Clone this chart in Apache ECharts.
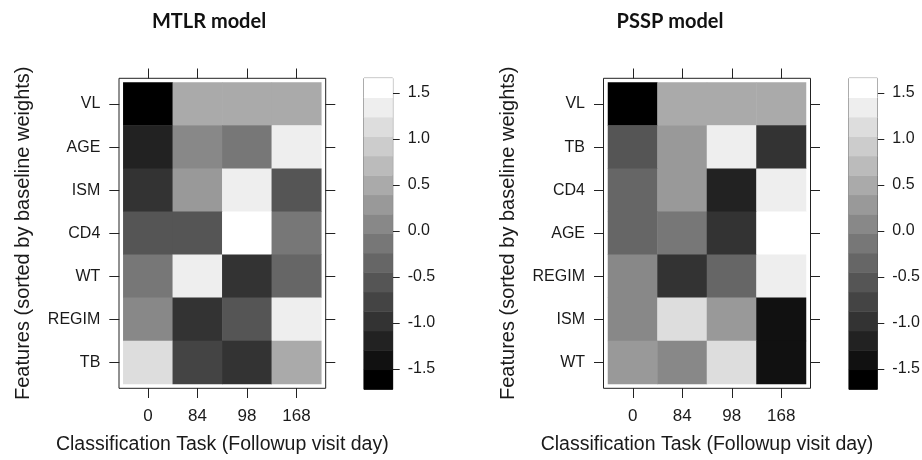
<!DOCTYPE html>
<html><head><meta charset="utf-8">
<script src="https://cdn.jsdelivr.net/npm/echarts@6/dist/echarts.min.js"></script>
<style>html,body{margin:0;padding:0;background:#fff}#c{width:922px;height:460px}</style>
</head><body><div id="c"></div>
<script>
// ---------- data ----------
const tasks = ['0', '84', '98', '168'];

const mtlrFeatures = ['VL', 'AGE', 'ISM', 'CD4', 'WT', 'REGIM', 'TB'];
const mtlrVL    = [-1.65,  0.50,  0.50,  0.50];
const mtlrAGE   = [-1.20,  0.08, -0.13,  1.35];
const mtlrISM   = [-0.98,  0.29,  1.34, -0.56];
const mtlrCD4   = [-0.55, -0.56,  1.60, -0.14];
const mtlrWT    = [-0.13,  1.34, -0.98, -0.35];
const mtlrREGIM = [ 0.07, -0.98, -0.56,  1.35];
const mtlrTB    = [ 1.13, -0.77, -0.98,  0.50];
const mtlrRows = [mtlrVL, mtlrAGE, mtlrISM, mtlrCD4, mtlrWT, mtlrREGIM, mtlrTB];

const psspFeatures = ['VL', 'TB', 'CD4', 'AGE', 'REGIM', 'ISM', 'WT'];
const psspVL    = [-1.70,  0.50,  0.50,  0.50];
const psspTB    = [-0.56,  0.29,  1.34, -0.98];
const psspCD4   = [-0.35,  0.29, -1.19,  1.35];
const psspAGE   = [-0.35, -0.13, -0.98,  1.62];
const psspREGIM = [ 0.08, -0.98, -0.35,  1.35];
const psspISM   = [ 0.08,  1.13,  0.29, -1.40];
const psspWT    = [ 0.29,  0.08,  1.13, -1.40];
const psspRows = [psspVL, psspTB, psspCD4, psspAGE, psspREGIM, psspISM, psspWT];

const colorbarTicks = [-1.5, -1.0, -0.5, 0.0, 0.5, 1.0, 1.5];
const scaleMin = -1.72;
const scaleMax = 1.66;
const nLevels = 16;

// ---------- derived ----------
const step = (scaleMax - scaleMin) / nLevels;
const bounds = [];
for (let k = 0; k <= nLevels; k++) bounds.push(scaleMin + k * step);
const levelIdx = [];
const levelMid = [];
for (let k = 0; k < nLevels; k++) { levelIdx.push(String(k)); levelMid.push(scaleMin + (k + 0.5) * step); }
function grey(k) { const g = Math.round(255 * k / (nLevels - 1)); return 'rgb(' + g + ',' + g + ',' + g + ')'; }
const pieces = [];
for (let k = 0; k < nLevels; k++) {
  const p = { gte: bounds[k], color: grey(k) };
  if (k === nLevels - 1) p.lte = bounds[k + 1] + 1; else p.lt = bounds[k + 1];
  if (k === 0) p.gte = bounds[0] - 1;
  pieces.push(p);
}
function cells(rows) {
  const out = [];
  rows.forEach((row, r) => row.forEach((v, c) => out.push([c, r, v])));
  return out;
}
const cbData = levelMid.map((v, k) => [0, k, v]);

const FONT = '"Liberation Sans", Arial, sans-serif';
const INK = '#1a1a1a';
const LINE = '#222';

const panels = [
  { title: 'MTLR model', titleX: 209, inner: { left: 123.3, top: 82.5, width: 198, height: 301.5 },
    frame: { left: 119, top: 78.3, width: 206.7, height: 310 },
    cb: { left: 364, top: 78.3, width: 28.7, height: 311 }, feats: mtlrFeatures, rows: mtlrRows },
  { title: 'PSSP model', titleX: 670, inner: { left: 608, top: 82.5, width: 198, height: 301.5 },
    frame: { left: 603.5, top: 78.3, width: 207, height: 310 },
    cb: { left: 849, top: 78.3, width: 28.3, height: 311 }, feats: psspFeatures, rows: psspRows }
];

const grid = [], xAxis = [], yAxis = [], series = [], graphic = [];
const tickStyle = { color: LINE, width: 1 };

panels.forEach((p, i) => {
  const gi = grid.length;
  grid.push(Object.assign({ show: false, containLabel: false, outerBoundsMode: 'none' }, p.inner));
  grid.push(Object.assign({ show: true, borderColor: LINE, borderWidth: 1, backgroundColor: 'transparent', containLabel: false, outerBoundsMode: 'none' }, p.frame));
  grid.push(Object.assign({ show: true, borderColor: LINE, borderWidth: 1, backgroundColor: 'transparent', containLabel: false, outerBoundsMode: 'none' }, p.cb));

  const xi = xAxis.length, yi = yAxis.length;
  // inner grid axes
  xAxis.push({ type: 'category', gridIndex: gi, position: 'bottom', offset: 4, data: tasks,
    axisLine: { show: false }, splitLine: { show: false },
    axisTick: { show: true, alignWithLabel: true, interval: 0, length: 10, lineStyle: tickStyle },
    axisLabel: { show: true, interval: 0, margin: 20, fontSize: 17, color: INK, fontFamily: FONT },
    name: 'Classification Task (Followup visit day)', nameLocation: 'middle', nameGap: 47,
    nameTextStyle: { fontSize: 19.5, color: INK, fontFamily: FONT } });
  xAxis.push({ type: 'category', gridIndex: gi, position: 'top', offset: 4, data: tasks,
    axisLine: { show: false }, splitLine: { show: false },
    axisTick: { show: true, alignWithLabel: true, interval: 0, length: 10, lineStyle: tickStyle },
    axisLabel: { show: false } });
  yAxis.push({ type: 'category', gridIndex: gi, position: 'left', offset: 4, inverse: true, data: p.feats,
    axisLine: { show: false }, splitLine: { show: false },
    axisTick: { show: true, alignWithLabel: true, interval: 0, length: 10, lineStyle: tickStyle },
    axisLabel: { show: true, interval: 0, margin: 19, fontSize: 16, color: INK, fontFamily: FONT },
    name: 'Features (sorted by baseline weights)', nameLocation: 'middle', nameGap: 86, nameRotate: 90,
    nameTextStyle: { fontSize: 20, color: INK, fontFamily: FONT } });
  yAxis.push({ type: 'category', gridIndex: gi, position: 'right', offset: 4, inverse: true, data: p.feats,
    axisLine: { show: false }, splitLine: { show: false },
    axisTick: { show: true, alignWithLabel: true, interval: 0, length: 10, lineStyle: tickStyle },
    axisLabel: { show: false } });
  // frame grid axes (hidden)
  xAxis.push({ type: 'value', gridIndex: gi + 1, show: false });
  yAxis.push({ type: 'value', gridIndex: gi + 1, show: false });
  // colorbar axes
  xAxis.push({ type: 'category', gridIndex: gi + 2, show: false, data: ['cb'] });
  yAxis.push({ type: 'category', gridIndex: gi + 2, show: false, data: levelIdx });
  yAxis.push({ type: 'value', gridIndex: gi + 2, position: 'right', min: scaleMin, max: scaleMax,
    axisLine: { show: false }, splitLine: { show: false },
    axisTick: { show: true, length: 7, customValues: colorbarTicks, lineStyle: tickStyle },
    axisLabel: { show: true, customValues: colorbarTicks, formatter: v => v.toFixed(1), margin: 15,
      fontSize: 16, color: INK, fontFamily: FONT } });

  series.push({ type: 'heatmap', xAxisIndex: xi, yAxisIndex: yi, data: cells(p.rows),
    itemStyle: { borderWidth: 0 }, emphasis: { disabled: true }, label: { show: false } });
  series.push({ type: 'heatmap', xAxisIndex: xi + 3, yAxisIndex: yi + 3, data: cbData,
    itemStyle: { borderWidth: 0 }, emphasis: { disabled: true }, label: { show: false } });

  graphic.push({ type: 'text', x: p.titleX, y: 22, style: { text: p.title, align: 'center', verticalAlign: 'middle',
    font: 'bold 20px Lato, "Open Sans", sans-serif', fill: '#111' } });
});

const chart = echarts.init(document.getElementById('c'), null, { renderer: 'canvas' });
chart.setOption({
  animation: false,
  backgroundColor: '#fff',
  grid, xAxis, yAxis, series, graphic,
  visualMap: { type: 'piecewise', show: false, dimension: 2, seriesIndex: [0, 1, 2, 3], pieces: pieces }
});
</script></body></html>
